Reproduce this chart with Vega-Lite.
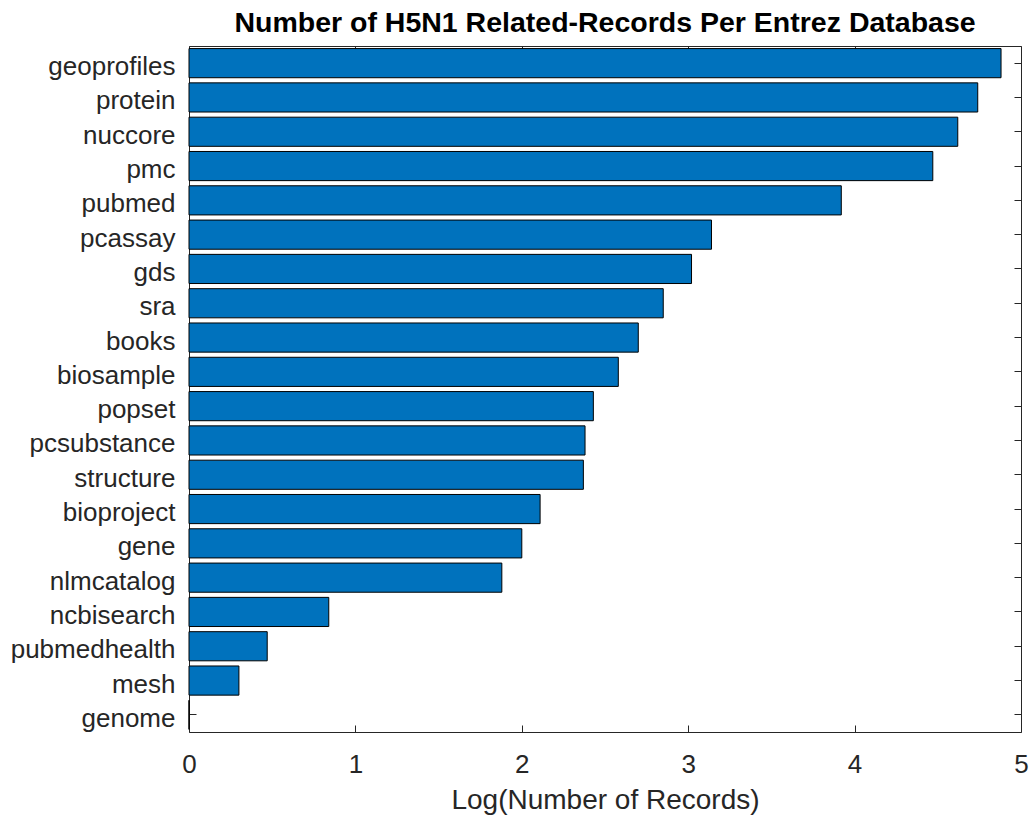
{
  "$schema": "https://vega.github.io/schema/vega-lite/v6.json",
  "autosize": {"type": "none"},
  "padding": {"left": 189, "top": 46, "right": 10, "bottom": 87},
  "width": 832,
  "height": 686,
  "background": "white",
  "title": {
    "text": "Number of H5N1 Related-Records Per Entrez Database",
    "font": "Liberation Sans",
    "fontSize": 28.5,
    "fontWeight": "bold",
    "color": "#000000",
    "anchor": "middle",
    "frame": "group",
    "offset": 8
  },
  "data": {
    "values": [
      {"db": "geoprofiles", "logRecords": 4.88},
      {"db": "protein", "logRecords": 4.74},
      {"db": "nuccore", "logRecords": 4.62},
      {"db": "pmc", "logRecords": 4.47},
      {"db": "pubmed", "logRecords": 3.92},
      {"db": "pcassay", "logRecords": 3.14},
      {"db": "gds", "logRecords": 3.02},
      {"db": "sra", "logRecords": 2.85},
      {"db": "books", "logRecords": 2.70},
      {"db": "biosample", "logRecords": 2.58},
      {"db": "popset", "logRecords": 2.43},
      {"db": "pcsubstance", "logRecords": 2.38},
      {"db": "structure", "logRecords": 2.37},
      {"db": "bioproject", "logRecords": 2.11},
      {"db": "gene", "logRecords": 2.00},
      {"db": "nlmcatalog", "logRecords": 1.88},
      {"db": "ncbisearch", "logRecords": 0.84},
      {"db": "pubmedhealth", "logRecords": 0.47},
      {"db": "mesh", "logRecords": 0.30},
      {"db": "genome", "logRecords": 0}
    ]
  },
  "layer": [
    {
      "mark": {"type": "bar", "color": "#0072BD", "stroke": "#000000", "strokeWidth": 1},
      "encoding": {
        "x": {
          "field": "logRecords",
          "type": "quantitative",
          "scale": {"domain": [0, 5], "nice": false, "zero": true},
          "axis": {
            "orient": "bottom",
            "title": "Log(Number of Records)",
            "values": [0, 1, 2, 3, 4, 5],
            "format": "d",
            "grid": false,
            "tickSize": -7,
            "labelPadding": 26,
            "titlePadding": 9
          }
        },
        "y": {
          "field": "db",
          "type": "nominal",
          "sort": null,
          "scale": {"paddingInner": 0.15, "paddingOuter": 0.075},
          "axis": {
            "orient": "left",
            "title": null,
            "tickSize": -7,
            "labelPadding": 21,
            "labelOffset": 4
          }
        }
      }
    },
    {
      "mark": {"type": "bar", "opacity": 0},
      "encoding": {
        "x": {
          "field": "logRecords",
          "type": "quantitative",
          "axis": {
            "orient": "top",
            "title": null,
            "labels": false,
            "values": [0, 1, 2, 3, 4, 5],
            "grid": false,
            "tickSize": -7
          }
        },
        "y": {
          "field": "db",
          "type": "nominal",
          "sort": null,
          "axis": {
            "orient": "right",
            "title": null,
            "labels": false,
            "tickSize": -7
          }
        }
      }
    }
  ],
  "resolve": {"axis": {"x": "independent", "y": "independent"}},
  "config": {
    "view": {"stroke": null},
    "axis": {
      "domainColor": "#262626",
      "domainWidth": 1,
      "tickColor": "#262626",
      "tickWidth": 1,
      "labelFont": "Liberation Sans",
      "labelFontSize": 26,
      "labelColor": "#262626",
      "titleFont": "Liberation Sans",
      "titleFontSize": 28,
      "titleFontWeight": "normal",
      "titleColor": "#262626",
      "labelFlush": false,
      "labelOverlap": false
    }
  }
}
